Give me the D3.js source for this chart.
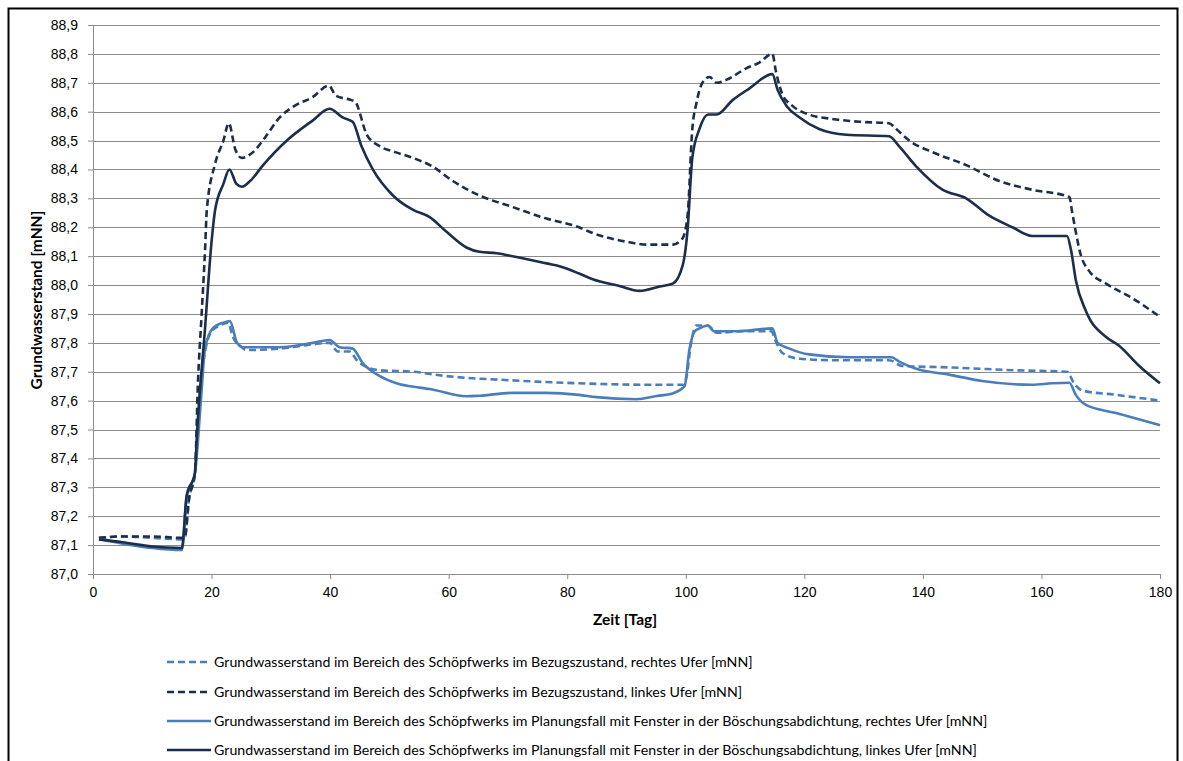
<!DOCTYPE html>
<html lang="de">
<head>
  <meta charset="UTF-8">
  <title>Grundwasserstand Schöpfwerk</title>
  <script src="https://d3js.org/d3.v7.min.js"></script>
  <style>
    body { margin: 0; background: #fff; }
    svg { font-family: Lato, "Open Sans", sans-serif; }
    .grid line { stroke: #8c8c8c; stroke-width: 1; }
    .tick text { fill: #000; }
  </style>
</head>
<body>
  <svg></svg>
  <script>
    // Bezugszustand, linkes Ufer (dunkel, gestrichelt)
    const tageLinksBezug = [1, 5, 10, 15, 15.5, 16.2, 17.2, 17.7, 18.3, 18.9, 19.2, 20.6, 22, 22.9, 24, 25.1, 27, 29, 31.5, 34, 37, 39.8, 41, 43.6, 44.2, 46.2, 48.4, 51, 54, 57.3, 60.7, 65.2, 70.8, 76.5, 82, 84.3, 90, 93.4, 97.8, 99.4, 100.3, 101.1, 101.8, 102.8, 104, 105.2, 106.8, 110.2, 112.4, 114.6, 115.2, 116.3, 118, 120.8, 124.7, 129.3, 134.3, 135.5, 137.7, 141.6, 147.3, 152.9, 158.4, 164.7, 165.2, 166.7, 168, 170.9, 175.3, 180];
    const linksBezug = [87.125, 87.13, 87.13, 87.125, 87.13, 87.26, 87.35, 87.66, 87.89, 88.12, 88.26, 88.42, 88.50, 88.56, 88.47, 88.44, 88.46, 88.51, 88.58, 88.62, 88.65, 88.69, 88.655, 88.64, 88.635, 88.52, 88.48, 88.46, 88.44, 88.41, 88.36, 88.31, 88.27, 88.23, 88.20, 88.18, 88.15, 88.14, 88.14, 88.16, 88.24, 88.54, 88.63, 88.70, 88.72, 88.70, 88.71, 88.75, 88.77, 88.80, 88.74, 88.66, 88.62, 88.59, 88.575, 88.565, 88.56, 88.54, 88.50, 88.46, 88.415, 88.36, 88.33, 88.305, 88.25, 88.10, 88.05, 88.005, 87.955, 87.89];

    // Planungsfall, linkes Ufer (dunkel, durchgezogen)
    const tageLinksPlan = [1, 5, 10, 15, 15.8, 17.2, 17.5, 18.9, 20, 20.6, 22, 23, 24.2, 25.1, 26.5, 28.7, 32.7, 37.1, 39.9, 42.1, 43.8, 45.3, 47.2, 50.6, 54, 56.8, 59.6, 63, 65.2, 68.1, 70.8, 76.5, 78.7, 82, 84.3, 88.8, 92.2, 95.6, 97.8, 99.5, 100.3, 101.1, 102.3, 103.8, 105.2, 107.9, 110.7, 114.6, 115.5, 117, 119.2, 122.5, 127.1, 134.3, 136, 138.9, 143.3, 147.3, 151.2, 155.1, 158.4, 161.8, 164.3, 165, 165.8, 167.5, 170.9, 173.1, 176.5, 180];
    const linksPlan = [87.12, 87.11, 87.095, 87.09, 87.27, 87.35, 87.47, 87.85, 88.15, 88.26, 88.35, 88.40, 88.35, 88.34, 88.36, 88.415, 88.50, 88.57, 88.61, 88.58, 88.565, 88.48, 88.40, 88.31, 88.26, 88.235, 88.185, 88.13, 88.115, 88.11, 88.10, 88.075, 88.065, 88.04, 88.02, 87.997, 87.98, 87.995, 88.005, 88.07, 88.19, 88.44, 88.54, 88.59, 88.59, 88.64, 88.68, 88.73, 88.675, 88.62, 88.58, 88.54, 88.52, 88.515, 88.48, 88.41, 88.33, 88.30, 88.24, 88.20, 88.17, 88.17, 88.17, 88.12, 88.017, 87.91, 87.82, 87.79, 87.72, 87.66];

    // Bezugszustand, rechtes Ufer (hell, gestrichelt)
    const tageRechtsBezug = [1, 5, 10, 15, 15.5, 16.2, 17.2, 18, 19, 20, 21.4, 22.8, 23.6, 24.8, 25.9, 31.5, 37.1, 39.9, 41.3, 43.3, 44.5, 45.8, 48.4, 54, 59.6, 70.8, 82, 93.9, 99.5, 100.1, 100.9, 101.8, 103.7, 105.2, 109.6, 114.4, 115.3, 116.3, 119.2, 124.7, 134.3, 136.5, 144.4, 155.7, 164.3, 165.5, 166.9, 172.6, 180];
    const rechtsBezug = [87.125, 87.13, 87.125, 87.12, 87.125, 87.26, 87.35, 87.62, 87.78, 87.84, 87.86, 87.87, 87.82, 87.79, 87.775, 87.78, 87.795, 87.80, 87.77, 87.77, 87.74, 87.72, 87.705, 87.70, 87.685, 87.67, 87.66, 87.655, 87.655, 87.68, 87.80, 87.86, 87.86, 87.835, 87.84, 87.84, 87.80, 87.765, 87.745, 87.74, 87.74, 87.72, 87.715, 87.705, 87.70, 87.66, 87.635, 87.62, 87.60];

    // Planungsfall, rechtes Ufer (hell, durchgezogen)
    const tageRechtsPlan = [1, 5, 10, 15, 15.8, 17.2, 18.2, 18.9, 20.2, 22, 23.1, 24.3, 25.3, 31.5, 37.1, 39.9, 41.6, 43.8, 45.5, 48.4, 51.2, 55.1, 56.8, 63, 65.2, 70.8, 76.5, 82, 84.9, 91.7, 95.1, 97.8, 99.8, 100.6, 101.5, 102.3, 103.7, 104.8, 108.5, 114.6, 115.5, 117.5, 120.8, 127.6, 134.7, 136, 138.9, 144.4, 150, 158.4, 161.8, 164.7, 165.8, 167.5, 172.6, 180];
    const rechtsPlan = [87.12, 87.105, 87.09, 87.083, 87.27, 87.35, 87.6, 87.78, 87.85, 87.87, 87.875, 87.80, 87.785, 87.785, 87.80, 87.81, 87.785, 87.78, 87.73, 87.685, 87.66, 87.645, 87.64, 87.615, 87.617, 87.627, 87.627, 87.62, 87.612, 87.605, 87.616, 87.625, 87.65, 87.775, 87.84, 87.85, 87.86, 87.84, 87.84, 87.85, 87.80, 87.78, 87.76, 87.75, 87.75, 87.735, 87.71, 87.69, 87.668, 87.655, 87.66, 87.662, 87.62, 87.585, 87.557, 87.515];

    const xTicks = [0, 20, 40, 60, 80, 100, 120, 140, 160, 180];
    const yTicks = [87.0, 87.1, 87.2, 87.3, 87.4, 87.5, 87.6, 87.7, 87.8, 87.9, 88.0, 88.1, 88.2, 88.3, 88.4, 88.5, 88.6, 88.7, 88.8, 88.9];

    const legendLabels = [
      'Grundwasserstand im Bereich des Schöpfwerks im Bezugszustand, rechtes Ufer [mNN]',
      'Grundwasserstand im Bereich des Schöpfwerks im Bezugszustand, linkes Ufer [mNN]',
      'Grundwasserstand im Bereich des Schöpfwerks im Planungsfall mit Fenster in der Böschungsabdichtung, rechtes Ufer [mNN]',
      'Grundwasserstand im Bereich des Schöpfwerks im Planungsfall mit Fenster in der Böschungsabdichtung, linkes Ufer [mNN]'
    ];

    const hell = '#4a7ebb';
    const dunkel = '#1b2e4b';

    const series = [
      { tage: tageRechtsBezug, werte: rechtsBezug, color: hell, dash: '7,4' },
      { tage: tageLinksBezug, werte: linksBezug, color: dunkel, dash: '7,4' },
      { tage: tageRechtsPlan, werte: rechtsPlan, color: hell, dash: null },
      { tage: tageLinksPlan, werte: linksPlan, color: dunkel, dash: null }
    ];

    const W = 1183, H = 761;
    const margin = { top: 25, right: 23, bottom: 187, left: 93 };
    const width = W - margin.left - margin.right;
    const height = H - margin.top - margin.bottom;

    const svg = d3.select('svg')
      .attr('width', W)
      .attr('height', H);

    // Rahmen
    svg.append('rect')
      .attr('x', 8.5).attr('y', 8.5)
      .attr('width', 1169).attr('height', 770)
      .attr('fill', 'none')
      .attr('stroke', '#000')
      .attr('stroke-width', 2);

    const g = svg.append('g')
      .attr('transform', `translate(${margin.left},${margin.top})`);

    const x = d3.scaleLinear().domain([0, 180]).range([0, width]);
    const y = d3.scaleLinear().domain([87.0, 88.9]).range([height, 0]);

    // Gitterlinien
    g.append('g')
      .attr('class', 'grid')
      .selectAll('line')
      .data(yTicks)
      .enter()
      .append('line')
      .attr('x1', 0).attr('x2', width)
      .attr('y1', d => Math.round(y(d)) + 0.5)
      .attr('y2', d => Math.round(y(d)) + 0.5);

    const fmt = d => d.toFixed(1).replace('.', ',');

    const yAxis = g.append('g')
      .call(d3.axisLeft(y).tickValues(yTicks).tickFormat(fmt).tickSize(5).tickPadding(10));
    yAxis.select('.domain').attr('stroke', '#8c8c8c');
    yAxis.selectAll('.tick line').attr('stroke', '#8c8c8c');
    yAxis.selectAll('text').style('font-size', '14px');

    const xAxis = g.append('g')
      .attr('transform', `translate(0,${height})`)
      .call(d3.axisBottom(x).tickValues(xTicks).tickSize(5).tickPadding(8));
    xAxis.select('.domain').attr('stroke', '#8c8c8c');
    xAxis.selectAll('.tick line').attr('stroke', '#8c8c8c');
    xAxis.selectAll('text').style('font-size', '14px');

    const line = d3.line()
      .x(d => x(d[0]))
      .y(d => y(d[1]))
      .curve(d3.curveMonotoneX);

    series.forEach(s => {
      g.append('path')
        .datum(s.tage.map((t, i) => [t, s.werte[i]]))
        .attr('fill', 'none')
        .attr('stroke', s.color)
        .attr('stroke-width', 2.6)
        .attr('stroke-dasharray', s.dash)
        .attr('stroke-linejoin', 'round')
        .attr('d', line);
    });

    // Achsentitel
    svg.append('text')
      .attr('x', 625)
      .attr('y', 625)
      .attr('text-anchor', 'middle')
      .style('font-size', '15.5px')
      .style('font-weight', 'bold')
      .text('Zeit [Tag]');

    svg.append('text')
      .attr('transform', 'rotate(-90)')
      .attr('x', -300)
      .attr('y', 42)
      .attr('text-anchor', 'middle')
      .style('font-size', '15.5px')
      .style('font-weight', 'bold')
      .text('Grundwasserstand [mNN]');

    // Legende
    const legendY = [662, 692, 721, 750];
    const legend = svg.append('g');
    series.forEach((s, i) => {
      legend.append('line')
        .attr('x1', 167).attr('x2', 211)
        .attr('y1', legendY[i]).attr('y2', legendY[i])
        .attr('stroke', s.color)
        .attr('stroke-width', 2.6)
        .attr('stroke-dasharray', s.dash);
      legend.append('text')
        .attr('x', 214)
        .attr('y', legendY[i])
        .attr('dy', '0.35em')
        .style('font-size', '14.2px')
        .text(legendLabels[i]);
    });
  </script>
</body>
</html>
